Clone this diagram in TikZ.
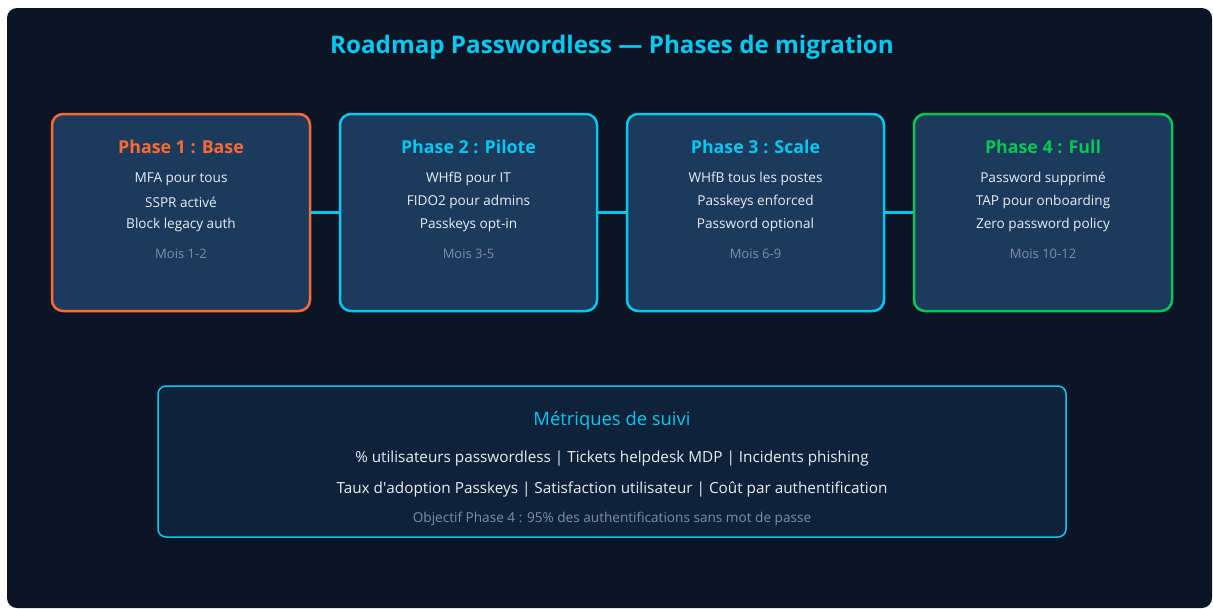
\documentclass[tikz,border=0pt]{standalone}
\usepackage{fontspec}
\setmainfont{Open Sans}
\definecolor{bgdark}{HTML}{0B1526}
\definecolor{boxfill}{HTML}{1B3A5C}
\definecolor{metfill}{HTML}{0F2239}
\definecolor{cyanc}{HTML}{00C8F0}
\definecolor{orangec}{HTML}{FF6B35}
\definecolor{greenc}{HTML}{00C853}
\definecolor{grayc}{HTML}{7F8FA6}
\definecolor{textc}{HTML}{E8EEF5}
\tikzset{
  phasebox/.style={draw=#1, line width=2.5pt, fill=boxfill, rounded corners=11pt},
  phasetitle/.style={font=\fontsize{17.8}{21}\selectfont\bfseries, text=#1, anchor=center},
  item/.style={font=\fontsize{13.6}{16}\selectfont, text=textc, anchor=center},
  months/.style={font=\fontsize{13}{16}\selectfont, text=grayc, anchor=center},
  link/.style={draw=cyanc, line width=3pt},
}
\begin{document}
\begin{tikzpicture}[x=1pt,y=-1pt]
\useasboundingbox (0,0) rectangle (1213,608);
\fill[white] (0,0) rectangle (1213,608);
\fill[bgdark, rounded corners=10pt] (7,8) rectangle (1212,608);
\node[font=\fontsize{24.2}{29}\selectfont\bfseries, text=cyanc] (title) at (612,47) {Roadmap Passwordless — Phases de migration};

% phase boxes
\node[phasebox=orangec, minimum width=258pt, minimum height=197pt] (p1) at (181,212.5) {};
\node[phasebox=cyanc, minimum width=257pt, minimum height=197pt] (p2) at (468.5,212.5) {};
\node[phasebox=cyanc, minimum width=257pt, minimum height=197pt] (p3) at (755.5,212.5) {};
\node[phasebox=greenc, minimum width=258pt, minimum height=197pt] (p4) at (1043,212.5) {};

\draw[link] (p1.east) -- (p2.west);
\draw[link] (p2.east) -- (p3.west);
\draw[link] (p3.east) -- (p4.west);

% Phase 1
\node[phasetitle=orangec] (t1) at (181,146.5) {Phase 1 : Base};
\node[item] (a1) at (181,179) {MFA pour tous};
\node[item] (b1) at (181,202) {SSPR activé};
\node[item] (c1) at (181,225) {Block legacy auth};
\node[months] (m1) at (181,254) {Mois 1-2};
% Phase 2
\node[phasetitle=cyanc] (t2) at (468.5,146.5) {Phase 2 : Pilote};
\node[item] (a2) at (468.5,179) {WHfB pour IT};
\node[item] (b2) at (468.5,202) {FIDO2 pour admins};
\node[item] (c2) at (468.5,225) {Passkeys opt-in};
\node[months] (m2) at (468.5,254) {Mois 3-5};
% Phase 3
\node[phasetitle=cyanc] (t3) at (755.5,146.5) {Phase 3 : Scale};
\node[item] (a3) at (755.5,179) {WHfB tous les postes};
\node[item] (b3) at (755.5,202) {Passkeys enforced};
\node[item] (c3) at (755.5,225) {Password optional};
\node[months] (m3) at (755.5,254) {Mois 6-9};
% Phase 4
\node[phasetitle=greenc] (t4) at (1043,146.5) {Phase 4 : Full};
\node[item] (a4) at (1043,179) {Password supprimé};
\node[item] (b4) at (1043,202) {TAP pour onboarding};
\node[item] (c4) at (1043,225) {Zero password policy};
\node[months] (m4) at (1043,254) {Mois 10-12};

% metrics
\node[draw=cyanc, line width=1.5pt, fill=metfill, rounded corners=8pt, minimum width=908pt, minimum height=151pt] (met) at (612,461.5) {};
\node[font=\fontsize{18.4}{22}\selectfont, text=cyanc] (mt) at (612,421) {Métriques de suivi};
\node[font=\fontsize{15.3}{18}\selectfont, text=textc] (ml1) at (612,459) {\% utilisateurs passwordless | Tickets helpdesk MDP | Incidents phishing};
\node[font=\fontsize{15.3}{18}\selectfont, text=textc] (ml2) at (612,489) {Taux d\textquotesingle adoption Passkeys | Satisfaction utilisateur | Coût par authentification};
\node[font=\fontsize{13.6}{16}\selectfont, text=grayc] (obj) at (612,519) {Objectif Phase 4 : 95\% des authentifications sans mot de passe};
\end{tikzpicture}
\end{document}
